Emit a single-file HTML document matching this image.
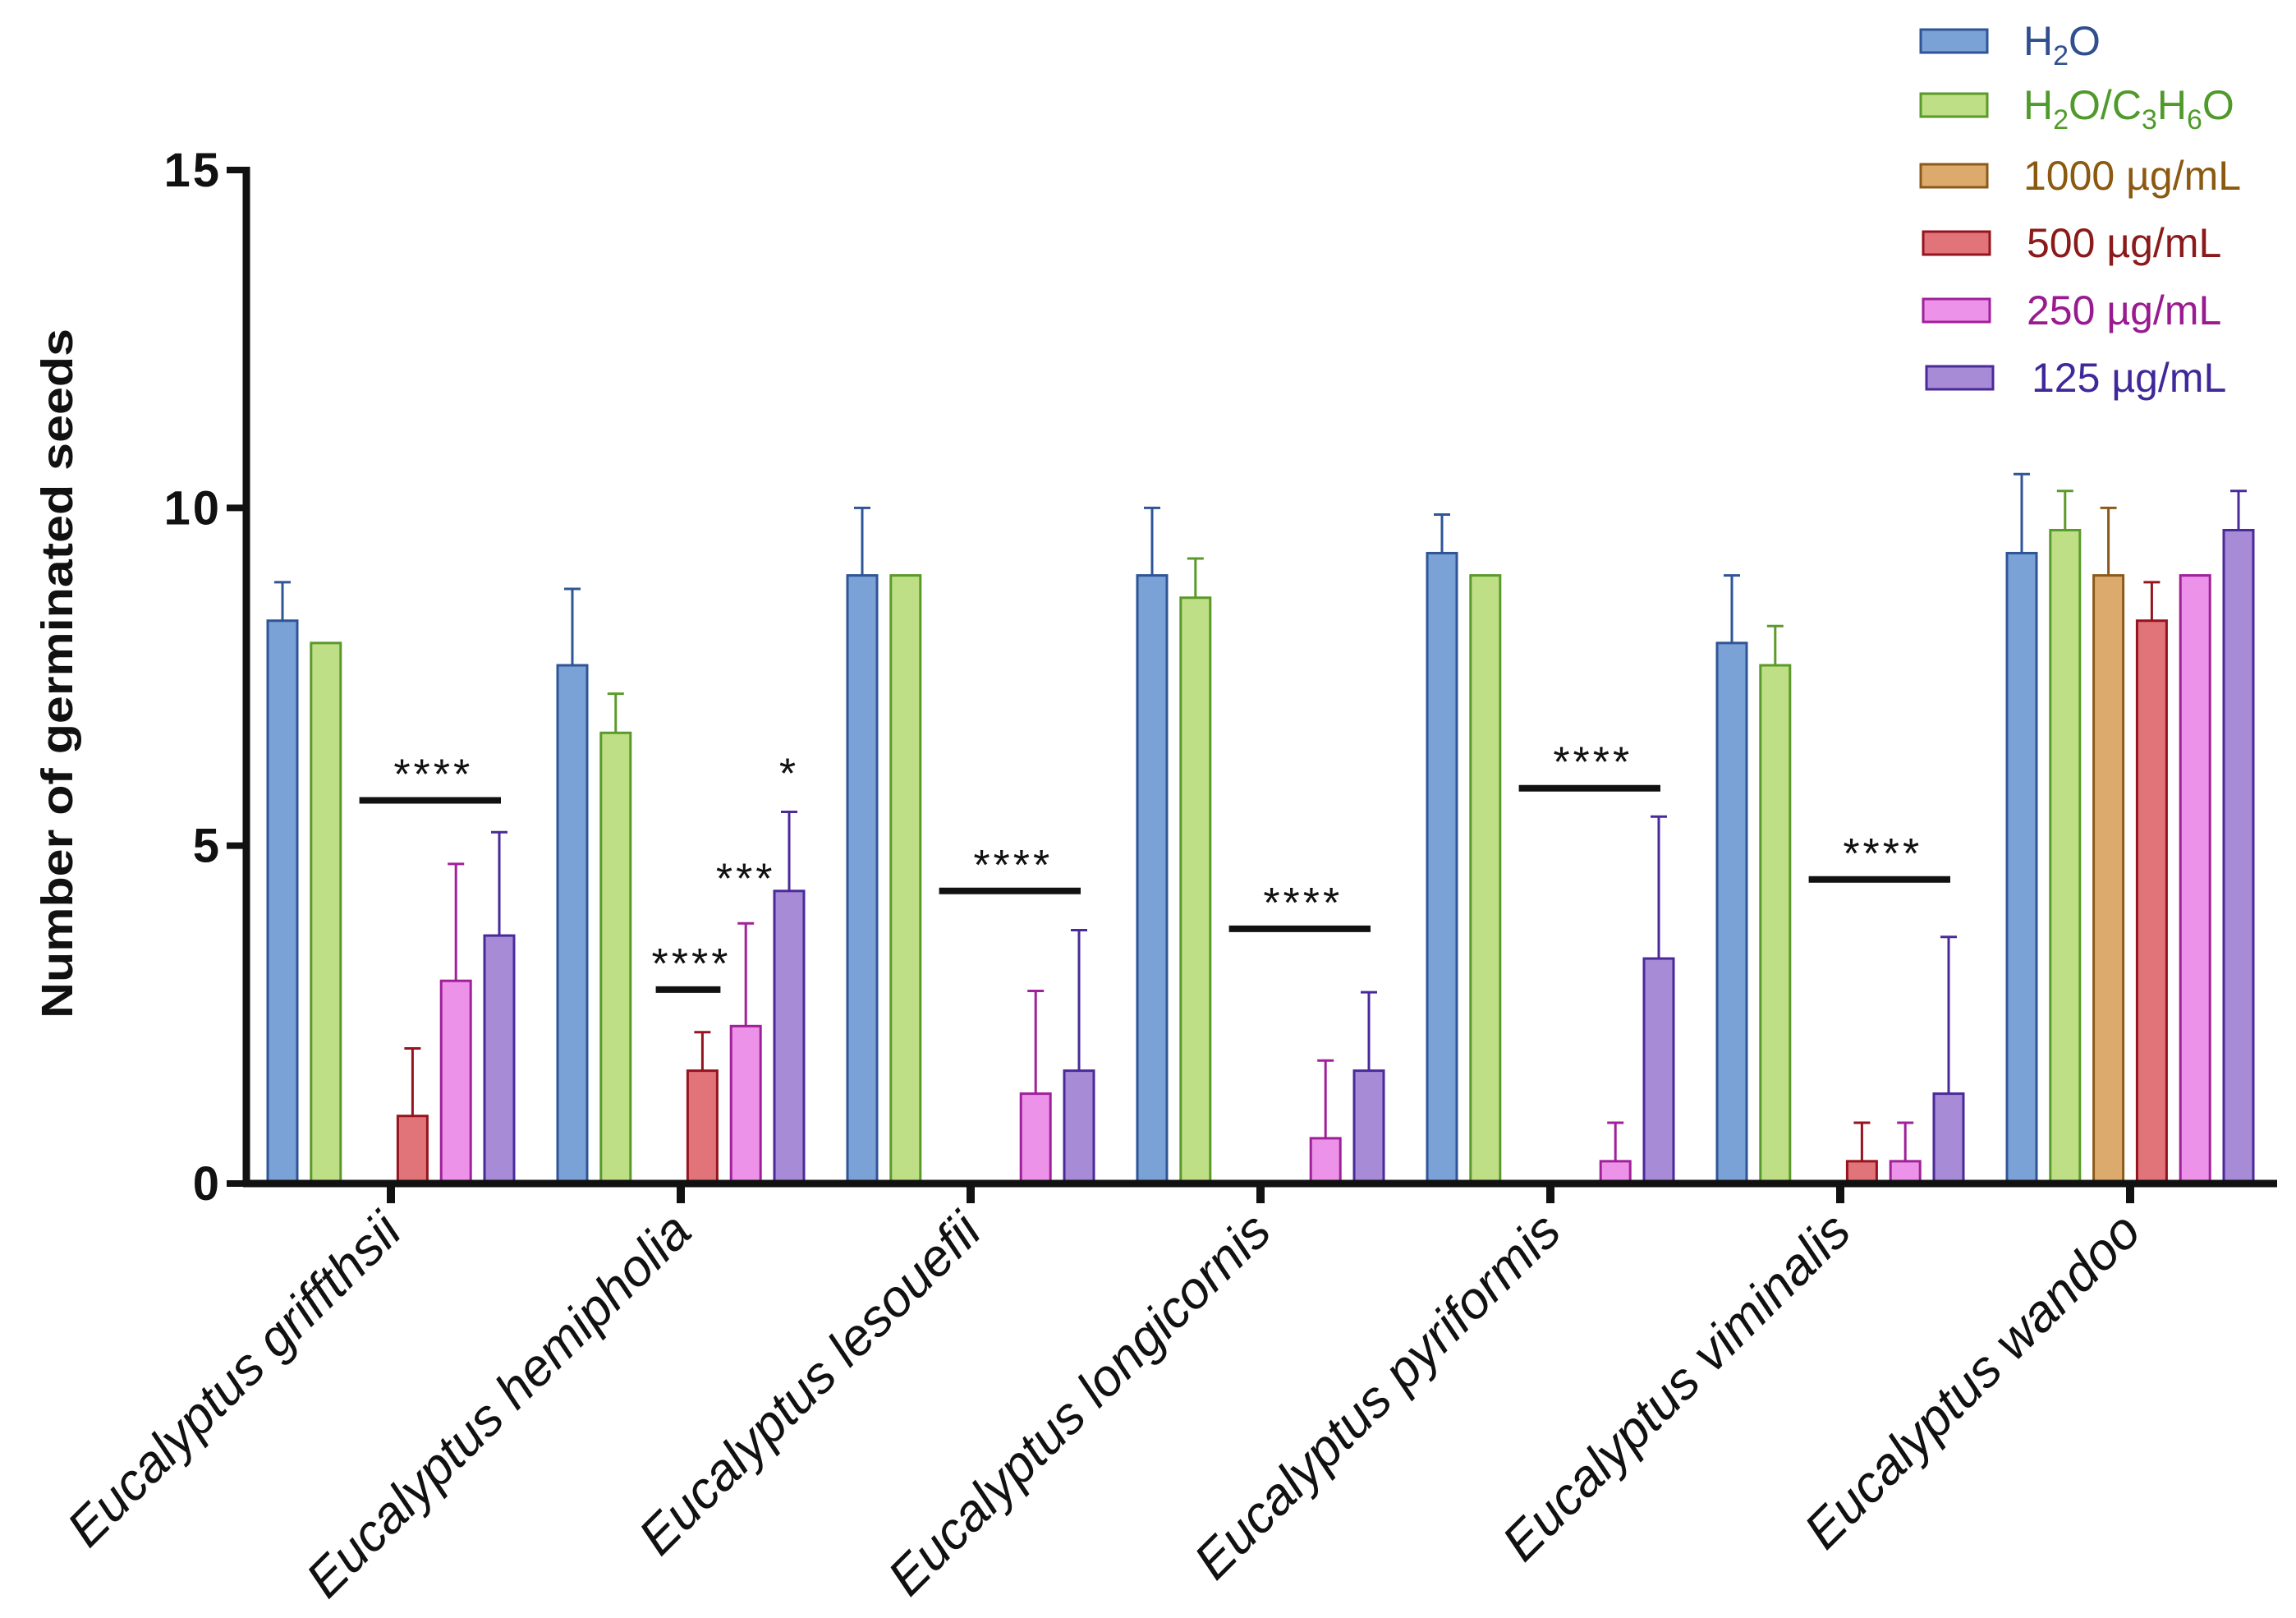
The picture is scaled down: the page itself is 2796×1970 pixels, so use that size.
<!DOCTYPE html>
<html><head><meta charset="utf-8"><style>
html,body{margin:0;padding:0;background:#fff;}
svg{display:block;font-family:"Liberation Sans",Arial,sans-serif;}
</style></head><body>
<svg id="chart" width="2796" height="1970" viewBox="0 0 2796 1970" xmlns="http://www.w3.org/2000/svg">
<g id="bars"></g>
<g id="sig"></g>
<g id="axes"></g>
<g id="legend"></g>
<text transform="translate(88,820) rotate(-90)" text-anchor="middle" font-size="54" font-weight="bold" fill="#111" textLength="840" lengthAdjust="spacingAndGlyphs">Number of germinated seeds</text>
</svg>
<script>
const categories = ["Eucalyptus griffthsii","Eucalyptus hemipholia","Eucalyptus lesouefii","Eucalyptus longicornis","Eucalyptus pyriformis","Eucalyptus viminalis","Eucalyptus wandoo"];
const seriesNames = ["H2O","H2O/C3H6O","1000 µg/mL","500 µg/mL","250 µg/mL","125 µg/mL"];
const h2o      = [8.33, 7.67, 9.0, 9.0, 9.33, 8.0, 9.33];
const h2oErr   = [0.57, 1.13, 1.0, 1.0, 0.57, 1.0, 1.17];
const acetone  = [8.0, 6.67, 9.0, 8.67, 9.0, 7.67, 9.67];
const acetErr  = [0, 0.58, 0, 0.58, 0, 0.58, 0.58];
const c1000    = [0, 0, 0, 0, 0, 0, 9.0];
const c1000Err = [0, 0, 0, 0, 0, 0, 1.0];
const c500     = [1.0, 1.67, 0, 0, 0, 0.33, 8.33];
const c500Err  = [1.0, 0.57, 0, 0, 0, 0.57, 0.57];
const c250     = [3.0, 2.33, 1.33, 0.67, 0.33, 0.33, 9.0];
const c250Err  = [1.73, 1.52, 1.52, 1.15, 0.57, 0.57, 0];
const c125     = [3.67, 4.33, 1.67, 1.67, 3.33, 1.33, 9.67];
const c125Err  = [1.53, 1.17, 2.08, 1.16, 2.1, 2.32, 0.58];
const yTicks   = [0, 5, 10, 15];
const sigLevel = [5.67, 2.87, 4.33, 3.77, 5.85, 4.5];
const sigLabel = ["****","****","****","****","****","****"];
const sigGroup = [0, 1, 2, 3, 4, 5];
const extraSigLabel = ["***","*"];
const extraSigLevel = [4.3, 5.85];
const extraSigGroup = [1, 1];
const extraSigSeries = [4, 5];

const values = [h2o, acetone, c1000, c500, c250, c125];
const errs = [h2oErr, acetErr, c1000Err, c500Err, c250Err, c125Err];
const fills = ["#7ba2d6","#bfdf86","#dcaa6c","#e07479","#ec92e8","#a78bd6"];
const strokes = ["#2f5597","#5a9a2a","#8b5a1a","#96141e","#a0209a","#4a2a9a"];
const legendText = ["#2f4f8f","#4f9a2a","#8b5a10","#8b1a1a","#9a1a90","#40289a"];

const NS = "http://www.w3.org/2000/svg";
const X0 = 300, Y0 = 1441, Ytop = 207, XEND = 2773;
const GROUP0 = 476, GSTEP = 353, BSTEP = 52.8, BW = 36;
function y(v){ return Y0 - v/15*(Y0-Ytop); }
function gx(i){ return GROUP0 + i*GSTEP; }
function bx(i,s){ return gx(i) + (s-2.5)*BSTEP; }
function mk(tag, attrs, parent){ const e=document.createElementNS(NS,tag); for(const k in attrs) e.setAttribute(k,attrs[k]); parent.appendChild(e); return e; }

const bars = document.getElementById('bars');
for(let s=0;s<6;s++){
  for(let i=0;i<categories.length;i++){
    const v = values[s][i];
    if(v<=0) continue;
    const cx = bx(i,s);
    if(errs[s][i]>0){
      const e = mk('path',{d:`M${cx},${y(v)} V${y(v+errs[s][i])} M${cx-10},${y(v+errs[s][i])} H${cx+10}`,stroke:strokes[s],'stroke-width':3,fill:'none'},bars);
      
      
    }
    const r = mk('rect',{x:cx-BW/2,y:y(v),width:BW,height:Y0-y(v),fill:fills[s],stroke:strokes[s],'stroke-width':3},bars);
    
    
  }
}

const sig = document.getElementById('sig');
for(let k=0;k<sigLevel.length;k++){
  const g = sigGroup[k];
  const xs1 = g===1 ? bx(g,2)-4 : bx(g,2)-12;
  const xs2 = g===1 ? bx(g,3)+22 : bx(g,5)+2;
  const l = mk('line',{x1:xs1,x2:xs2,y1:y(sigLevel[k]),y2:y(sigLevel[k]),stroke:'#111','stroke-width':8},sig);
  
  
  const t = mk('text',{x:(xs1+xs2)/2+4,y:y(sigLevel[k])-14,'text-anchor':'middle','font-size':52,'letter-spacing':4,fill:'#111'},sig);
  t.textContent = sigLabel[k];
  
  
}
for(let k=0;k<extraSigLabel.length;k++){
  const t = mk('text',{x:bx(extraSigGroup[k],extraSigSeries[k]),y:y(extraSigLevel[k]),'text-anchor':'middle','font-size':52,'letter-spacing':4,fill:'#111'},sig);
  t.textContent = extraSigLabel[k];
  
  
}

const axes = document.getElementById('axes');
const ya = mk('line',{x1:X0,x2:X0,y1:Ytop-4,y2:Y0+4,stroke:'#111','stroke-width':9},axes);


const xa = mk('line',{x1:X0-4,x2:XEND,y1:Y0,y2:Y0,stroke:'#111','stroke-width':9},axes);


for(const t of yTicks){
  const tl = mk('line',{x1:X0-24,x2:X0,y1:y(t),y2:y(t),stroke:'#111','stroke-width':8},axes);
  
  
  const tx = mk('text',{x:X0-30,y:y(t)+20,'text-anchor':'end','font-size':58,'font-weight':'bold','letter-spacing':3,fill:'#111'},axes);
  tx.textContent = t;
  
  
}
for(let i=0;i<categories.length;i++){
  const tl = mk('line',{x1:gx(i),x2:gx(i),y1:Y0,y2:Y0+24,stroke:'#111','stroke-width':10},axes);
  
  
  const tx = mk('text',{transform:`translate(${gx(i)+16},${Y0+62}) rotate(-45)`,'text-anchor':'end','font-size':63,'font-style':'italic',fill:'#111'},axes);
  tx.textContent = categories[i];
  
  
}

const legend = document.getElementById('legend');
const ly = [50,128,214,296,378,460];
const lx = [2339,2339,2339,2342,2342,2346];
for(let s=0;s<6;s++){
  const r = mk('rect',{x:lx[s],y:ly[s]-14,width:81,height:28,fill:fills[s],stroke:strokes[s],'stroke-width':3},legend);
  
  
  const t = mk('text',{x:s<3?2464:(s===5?2474:2468),y:ly[s]+17,'font-size':50,fill:legendText[s]},legend);
  
  
  if(s===0){ t.innerHTML = 'H<tspan font-size="34" dy="12">2</tspan><tspan dy="-12">O</tspan>'; }
  else if(s===1){ t.innerHTML = 'H<tspan font-size="34" dy="12">2</tspan><tspan dy="-12">O/C</tspan><tspan font-size="34" dy="12">3</tspan><tspan dy="-12">H</tspan><tspan font-size="34" dy="12">6</tspan><tspan dy="-12">O</tspan>'; }
  else t.textContent = seriesNames[s];
}
</script>
</body></html>
